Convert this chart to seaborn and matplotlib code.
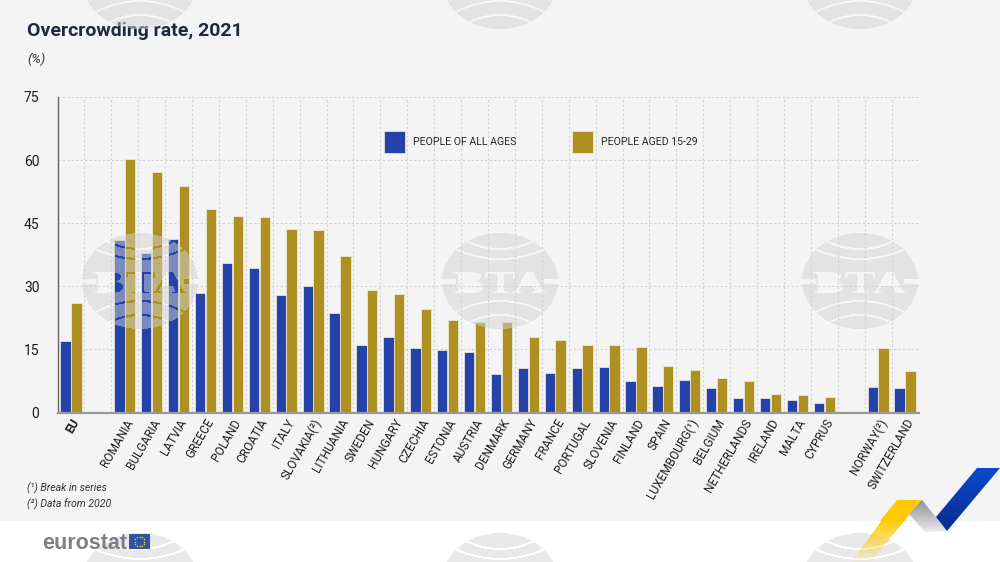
import matplotlib
matplotlib.use("Agg")
import matplotlib.pyplot as plt
import numpy as np
import pandas as pd
import seaborn as sns
from matplotlib import font_manager as fm
from matplotlib.patches import Polygon, Rectangle
from matplotlib.path import Path
from matplotlib.textpath import TextPath
from matplotlib.transforms import Affine2D

# Data, the two blank labels are the gaps after EU and before Norway
countries = ["EU", " ", "ROMANIA", "BULGARIA", "LATVIA", "GREECE", "POLAND", "CROATIA", "ITALY",
             "SLOVAKIA(²)", "LITHUANIA", "SWEDEN", "HUNGARY", "CZECHIA", "ESTONIA", "AUSTRIA",
             "DENMARK", "GERMANY", "FRANCE", "PORTUGAL", "SLOVENIA", "FINLAND", "SPAIN",
             "LUXEMBOURG(¹)", "BELGIUM", "NETHERLANDS", "IRELAND", "MALTA", "CYPRUS", "  ",
             "NORWAY(²)", "SWITZERLAND"]
all_ages = [17.0, np.nan, 41.0, 37.8, 41.2, 28.5, 35.6, 34.3, 28.0, 30.0, 23.7, 16.1, 17.9, 15.3,
            14.9, 14.3, 9.2, 10.6, 9.4, 10.6, 10.9, 7.4, 6.3, 7.7, 5.8, 3.4, 3.4, 2.9, 2.3, np.nan,
            6.1, 5.8]
aged_15_29 = [26.0, np.nan, 60.2, 57.1, 53.8, 48.4, 46.8, 46.5, 43.7, 43.3, 37.3, 29.2, 28.2, 24.6,
              22.0, 21.6, 21.5, 17.9, 17.2, 16.1, 16.1, 15.5, 11.1, 10.2, 8.2, 7.5, 4.5, 4.2, 3.6,
              np.nan, 15.3, 9.9]
y_ticks = [0, 15, 30, 45, 60, 75]

W, H = 1000, 562
BLUE = "#2442a8"
GOLD = "#ae9022"

sns.set_theme(style="white")
plt.rcParams["font.family"] = ["Roboto", "DejaVu Sans"]

df = pd.DataFrame({"country": countries, "PEOPLE OF ALL AGES": all_ages, "PEOPLE AGED 15-29": aged_15_29})
long_df = df.melt(id_vars="country", var_name="group", value_name="rate")

fig = plt.figure(figsize=(10, 5.62), dpi=100, facecolor="white")

# Page background in pixel coordinates
bg = fig.add_axes([0, 0, 1, 1], zorder=-1)
bg.set_xlim(0, W)
bg.set_ylim(H, 0)
bg.axis("off")
bg.add_patch(Rectangle((0, 0), W, 521, color="#f4f4f4", lw=0))

# Main chart
ax = fig.add_axes([57.5 / W, 1 - 412.5 / H, 861 / W, 315.5 / H], zorder=1)
ax.patch.set_alpha(0)
sns.barplot(data=long_df, x="country", y="rate", hue="group", order=countries,
            palette=[BLUE, GOLD], width=0.8, gap=0.04, saturation=1,
            edgecolor="#f1efe2", linewidth=0.5, ax=ax)
ax.set_xlim(-0.5, len(countries) - 0.5)
ax.set_ylim(0, 75)
ax.set_yticks(y_ticks)
ax.set_xlabel("")
ax.set_ylabel("")
ax.set_xticks(np.arange(len(countries) + 1) - 0.5, minor=True)
ax.grid(True, which="minor", axis="x", color="#d2d2d2", ls=(0, (2, 2)), lw=0.8)
ax.grid(True, which="major", axis="y", color="#d2d2d2", ls=(0, (2, 2)), lw=0.8)
ax.grid(False, which="major", axis="x")
ax.set_axisbelow(True)
for side in ["top", "right"]:
    ax.spines[side].set_visible(False)
ax.spines["left"].set_color("#666666")
ax.spines["left"].set_linewidth(1)
ax.spines["bottom"].set_color("#999999")
ax.spines["bottom"].set_linewidth(1.6)
ax.tick_params(axis="both", which="both", length=0)
ax.tick_params(axis="y", pad=13, labelsize=10, labelcolor="#1c1c1c")
ax.set_xticks(range(len(countries)))
ax.set_xticklabels(countries, rotation=60, ha="right", va="top", rotation_mode="anchor",
                   fontsize=8.6, color="#1c1c1c")
ax.tick_params(axis="x", pad=3)
ax.get_xticklabels()[0].set_fontweight("bold")

ax.legend(loc="center left", bbox_to_anchor=(384 / W, 1 - 142 / H), bbox_transform=fig.transFigure,
          ncol=2, frameon=False, fontsize=7.6, handlelength=1.99, handleheight=2.75,
          handletextpad=0.76, columnspacing=5.3, borderpad=0, borderaxespad=0)

# Text around the chart
fig.text(27 / W, 1 - 31 / H, "Overcrowding rate, 2021", fontsize=14, fontweight="bold",
         color="#1f2a3c", va="center")
fig.text(27 / W, 1 - 59 / H, "(%)", fontsize=9.5, fontstyle="italic", color="#333333", va="center")
fig.text(27 / W, 1 - 488 / H, "(¹) Break in series", fontsize=7.6, fontstyle="italic", color="#333333", va="center")
fig.text(27 / W, 1 - 504 / H, "(²) Data from 2020", fontsize=7.6, fontstyle="italic", color="#333333", va="center")

# Overlay in pixel coordinates: watermark, logo and ribbon
over = fig.add_axes([0, 0, 1, 1], zorder=5)
over.set_xlim(0, W)
over.set_ylim(H, 0)
over.axis("off")
over.patch.set_alpha(0)

# BTA watermark mask
xx, yy = np.meshgrid(np.arange(W) + 0.5, np.arange(H) + 0.5)
mask = np.zeros((H, W), dtype=bool)
tp = TextPath((0, 0), "BTA", size=10, prop=fm.FontProperties(family="Liberation Serif", weight="bold"))
ext = tp.get_extents()
points = np.column_stack([xx.ravel(), yy.ravel()])
for cx, cy in [(140, 281), (500, 281), (860, 281), (140, -19), (500, -19), (860, -19),
               (140, 581), (500, 581), (860, 581)]:
    dx = xx - cx
    dy = yy - cy
    disc = (dx / 58) ** 2 + (dy / 48) ** 2 <= 1
    arcs = (np.abs(dy - (-32 - 7 * (dx / 32) ** 2)) < 1.1) | (np.abs(dy - (-22 - 11 * (dx / 47) ** 2)) < 1.1) \
        | (np.abs(dy - (20 + 9 * (dx / 40) ** 2)) < 1.1) | (np.abs(dy - (34 + 7 * (dx / 30) ** 2)) < 1.1)
    logo = disc & ~arcs
    if cy == 281:
        sx = 92 / ext.width
        sy = -21 / ext.height
        trans = Affine2D().translate(-ext.x0 - ext.width / 2, -ext.y0 - ext.height / 2).scale(sx, sy).translate(cx, cy + 1.5)
        letters = Path(tp.vertices, tp.codes).transformed(trans)
        near = np.abs(points[:, 0] - cx) < 60
        inside = np.zeros(points.shape[0], dtype=bool)
        inside[near] = letters.contains_points(points[near])
        logo &= ~inside.reshape(H, W)
        # bars that run out to the edge of the disc
        logo &= ~((np.abs(dy - 0.5) < 2.5) & (np.abs(dx) > 44))
    mask |= logo
rgba = np.zeros((H, W, 4))
rgba[..., :3] = 211 / 255
rgba[..., 3] = mask * 0.5
over.imshow(rgba, extent=(0, W, H, 0), interpolation="bilinear", aspect="auto", zorder=1)
over.set_xlim(0, W)
over.set_ylim(H, 0)

# eurostat logo
over.text(42, 549, "eurostat", fontsize=15.5, fontweight="bold", family="Liberation Sans",
          color="#7b8087", va="baseline", zorder=3)
over.add_patch(Rectangle((129, 534), 21, 15, color="#2f55a4", lw=0, zorder=3))
star_angles = np.arange(12) * np.pi / 6
over.scatter(139.5 + 4.8 * np.cos(star_angles), 541.5 + 4.8 * np.sin(star_angles), s=1.2,
             color="#e8c92e", lw=0, zorder=4)


def gradient_poly(verts, top, bottom, extent):
    # vertical colour gradient clipped to a polygon
    top = np.array(top, dtype=float)
    bottom = np.array(bottom, dtype=float)
    t = np.linspace(0, 1, 64)[:, None]
    grad = (top * (1 - t) + bottom * t)[:, None, :]
    im = over.imshow(grad, extent=extent, aspect="auto", zorder=6, interpolation="bilinear")
    patch = Polygon(verts, closed=True, transform=over.transData, fc="none", ec="none")
    over.add_patch(patch)
    im.set_clip_path(patch)


gradient_poly([(897, 500), (922, 500), (870, 562), (851, 562)],
              (1, 0.79, 0, 1), (1, 0.79, 0, 0.05), (850, 925, 562, 520))
over.add_patch(Polygon([(897, 500), (922, 500), (904, 521), (880, 521)], closed=True, color="#ffc800", lw=0, zorder=6))
gradient_poly([(922, 500), (947, 531), (925, 532), (909, 514)],
              (0.55, 0.56, 0.58, 1), (0.93, 0.93, 0.94, 1), (905, 950, 533, 499))
gradient_poly([(977, 468), (1000, 468), (947, 531), (936, 517)],
              (0.05, 0.29, 0.82, 1), (0.03, 0.17, 0.55, 1), (930, 1000, 532, 467))
over.set_xlim(0, W)
over.set_ylim(H, 0)

fig.savefig("out.png", dpi=100)
